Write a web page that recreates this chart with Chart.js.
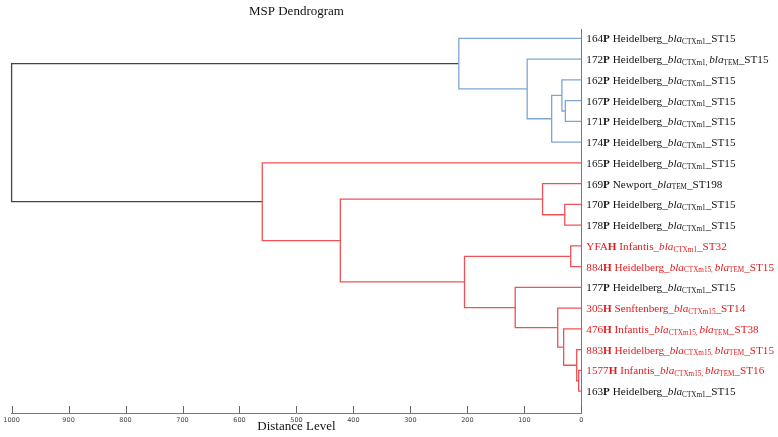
<!DOCTYPE html>
<html>
<head>
<meta charset="utf-8">
<title>MSP Dendrogram</title>
<script src="https://cdn.jsdelivr.net/npm/chart.js@4.4.1/dist/chart.umd.min.js"></script>
<style>
  html, body { margin: 0; padding: 0; background: #fff; }
  #wrap { width: 778px; height: 437px; }
</style>
</head>
<body>
<div id="wrap"><canvas id="myDendrogram" width="778" height="437"></canvas></div>
<script>
'use strict';

// leaves, top to bottom
const isolates = ['164', '172', '162', '167', '171', '174', '165', '169', '170', '178', 'YFA', '884', '177', '305', '476', '883', '1577', '163'];
const sources = ['P', 'P', 'P', 'P', 'P', 'P', 'P', 'P', 'P', 'P', 'H', 'H', 'P', 'H', 'H', 'H', 'H', 'P'];
const serovars = ['Heidelberg', 'Heidelberg', 'Heidelberg', 'Heidelberg', 'Heidelberg', 'Heidelberg', 'Heidelberg', 'Newport', 'Heidelberg', 'Heidelberg',
    'Infantis', 'Heidelberg', 'Heidelberg', 'Senftenberg', 'Infantis', 'Heidelberg', 'Infantis', 'Heidelberg'];
const genes = [['CTXm1'], ['CTXm1', 'TEM'], ['CTXm1'], ['CTXm1'], ['CTXm1'], ['CTXm1'], ['CTXm1'], ['TEM'], ['CTXm1'], ['CTXm1'],
    ['CTXm1'], ['CTXm15', 'TEM'], ['CTXm1'], ['CTXm15'], ['CTXm15', 'TEM'], ['CTXm15', 'TEM'], ['CTXm15', 'TEM'], ['CTXm1']];
const sequenceTypes = ['ST15', 'ST15', 'ST15', 'ST15', 'ST15', 'ST15', 'ST15', 'ST198', 'ST15', 'ST15', 'ST32', 'ST15', 'ST15', 'ST14', 'ST38', 'ST15', 'ST16', 'ST15'];

// merges (ids 0-17 = leaves, merge k gets id 18+k)
const mergeLeft = [16, 15, 3, 2, 21, 1, 0, 8, 7, 10, 14, 13, 12, 27, 26, 6, 24];
const mergeRight = [17, 18, 4, 20, 5, 22, 23, 9, 25, 11, 19, 28, 29, 30, 31, 32, 33];
const mergeHeight = [4.6, 8.1, 28, 34, 52, 95, 215, 29, 68, 18.6, 31, 41.4, 116, 205, 423, 560, 1000];
const mergeGroup = ['red', 'red', 'blue', 'blue', 'blue', 'blue', 'blue', 'red', 'red', 'red', 'red', 'red', 'red', 'red', 'red', 'red', 'root'];

// distance axis ticks
const distanceTicks = [0, 100, 200, 300, 400, 500, 600, 700, 800, 900, 1000];

{
    const groupColors = { blue: '#7ea6d3', red: '#ee5256', root: '#444444' };
    const serif = '"Liberation Serif", "Times New Roman", serif';

    // build the U-shaped links from the merge table
    const nodeY = isolates.map((_, i) => i);
    const nodeH = isolates.map(() => 0);
    const datasets = mergeHeight.map((h, m) => {
        const a = mergeLeft[m];
        const b = mergeRight[m];
        const ds = {
            data: [
                { x: nodeH[a], y: nodeY[a] },
                { x: h, y: nodeY[a] },
                { x: h, y: nodeY[b] },
                { x: nodeH[b], y: nodeY[b] }
            ],
            showLine: true,
            borderColor: groupColors[mergeGroup[m]],
            borderWidth: 1.3,
            pointRadius: 0,
            tension: 0,
            clip: 3
        };
        nodeY.push((nodeY[a] + nodeY[b]) / 2);
        nodeH.push(h);
        return ds;
    });

    // tick marks pointing up into the plot
    const axisMarks = {
        id: 'axisMarks',
        afterDatasetsDraw(chart) {
            const { ctx, chartArea, scales: { x } } = chart;
            ctx.save();
            ctx.strokeStyle = '#666';
            ctx.lineWidth = 1;
            x.ticks.forEach(t => {
                const px = Math.round(x.getPixelForValue(t.value)) + 0.5;
                ctx.beginPath();
                ctx.moveTo(px, chartArea.bottom - 7);
                ctx.lineTo(px, chartArea.bottom);
                ctx.stroke();
            });
            ctx.restore();
        }
    };

    // leaf labels with bold source letter, italic bla and subscripts
    function labelRuns(i) {
        const runs = [
            { text: isolates[i], style: 'normal' },
            { text: sources[i], style: 'bold' },
            { text: ' ' + serovars[i] + '_', style: 'normal' }
        ];
        genes[i].forEach((g, k) => {
            if (k > 0) runs.push({ text: ', ', style: 'sub' });
            runs.push({ text: 'bla', style: 'italic' });
            runs.push({ text: g, style: 'sub' });
        });
        runs.push({ text: '_' + sequenceTypes[i], style: 'normal' });
        return runs;
    }
    const runFonts = {
        normal: '11.2px ' + serif,
        bold: 'bold 11.2px ' + serif,
        italic: 'italic 11.2px ' + serif,
        sub: '7.2px ' + serif
    };
    const leafLabels = {
        id: 'leafLabels',
        afterDraw(chart) {
            const { ctx, chartArea, scales: { y } } = chart;
            ctx.save();
            ctx.textBaseline = 'middle';
            isolates.forEach((_, i) => {
                let px = chartArea.right + 5;
                const py = y.getPixelForValue(i) + 1;
                ctx.fillStyle = sources[i] === 'H' ? '#e31a1c' : '#111';
                labelRuns(i).forEach(r => {
                    ctx.font = runFonts[r.style];
                    ctx.fillText(r.text, px, r.style === 'sub' ? py + 2.8 : py);
                    px += ctx.measureText(r.text).width;
                });
            });
            ctx.restore();
        }
    };

    const ctx = document.getElementById('myDendrogram');
    new Chart(ctx, {
        type: 'scatter',
        data: { datasets: datasets },
        options: {
            responsive: false,
            animation: false,
            devicePixelRatio: 1,
            layout: { padding: { left: 11.6, right: 196.7, top: 0, bottom: 0 } },
            plugins: {
                legend: { display: false },
                tooltip: { enabled: false },
                title: {
                    display: true,
                    text: 'MSP Dendrogram',
                    color: '#111',
                    font: { family: serif, size: 13, weight: 'normal' },
                    padding: { top: 4, bottom: 9.4 }
                }
            },
            scales: {
                x: {
                    type: 'linear',
                    position: 'bottom',
                    reverse: true,
                    min: 0,
                    max: 1000,
                    afterBuildTicks(scale) {
                        scale.ticks = distanceTicks.map(v => ({ value: v }));
                    },
                    ticks: {
                        color: '#444',
                        font: { family: '"DejaVu Sans", sans-serif', size: 6.5 },
                        padding: 3,
                        maxRotation: 0,
                        autoSkip: false,
                        callback: v => String(v)
                    },
                    grid: { display: false, drawTicks: false },
                    border: { display: true, color: '#777', width: 1 },
                    title: {
                        display: true,
                        text: 'Distance Level',
                        color: '#111',
                        font: { family: serif, size: 13 },
                        padding: { top: 0, bottom: 3 }
                    },
                    afterFit(scale) { scale.height = 24; }
                },
                y: {
                    type: 'linear',
                    position: 'right',
                    reverse: true,
                    min: -0.45,
                    max: 18.05,
                    ticks: { display: false },
                    grid: { display: false, drawTicks: false },
                    border: { display: true, color: '#777', width: 1 },
                    afterFit(scale) { scale.width = 0; }
                }
            }
        },
        plugins: [axisMarks, leafLabels]
    });
}
</script>
</body>
</html>
